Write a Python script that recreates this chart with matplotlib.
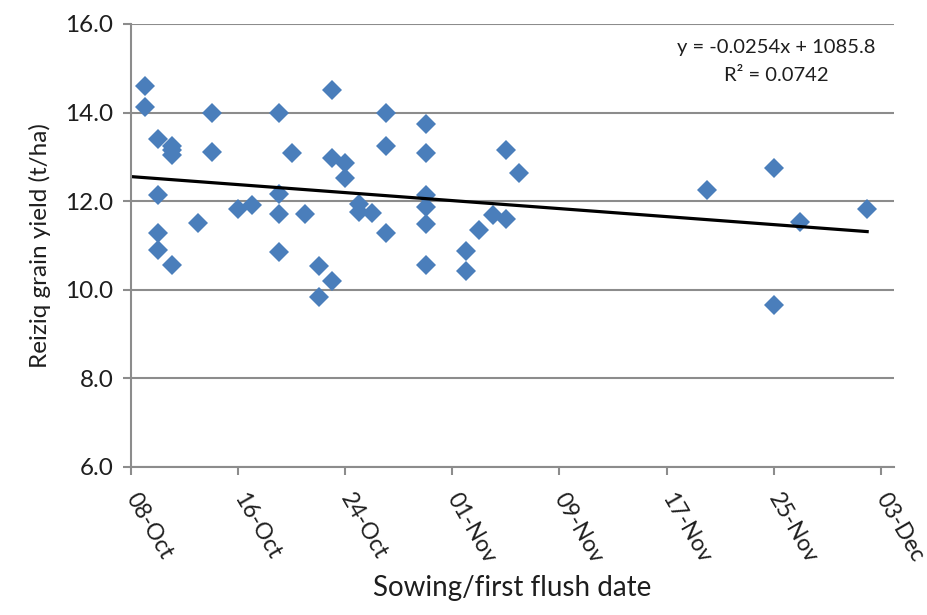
"""Reiziq grain yield against sowing/first flush date with linear trendline."""

import matplotlib.pyplot as plt
import matplotlib.dates as mdates
import numpy as np
import pandas as pd

sowing_dates = [
    "2015-10-09", "2015-10-09",
    "2015-10-10", "2015-10-10", "2015-10-10", "2015-10-10",
    "2015-10-11", "2015-10-11", "2015-10-11", "2015-10-11",
    "2015-10-13",
    "2015-10-14", "2015-10-14",
    "2015-10-16",
    "2015-10-17",
    "2015-10-19", "2015-10-19", "2015-10-19", "2015-10-19",
    "2015-10-20",
    "2015-10-21",
    "2015-10-22", "2015-10-22",
    "2015-10-23", "2015-10-23", "2015-10-23",
    "2015-10-24", "2015-10-24",
    "2015-10-25", "2015-10-25",
    "2015-10-26",
    "2015-10-27", "2015-10-27", "2015-10-27",
    "2015-10-30", "2015-10-30", "2015-10-30", "2015-10-30", "2015-10-30", "2015-10-30",
    "2015-11-02", "2015-11-02",
    "2015-11-03",
    "2015-11-04",
    "2015-11-05", "2015-11-05",
    "2015-11-06",
    "2015-11-20",
    "2015-11-25", "2015-11-25",
    "2015-11-27",
    "2015-12-02",
]
grain_yield = [
    14.60, 14.13,
    13.40, 12.13, 11.28, 10.90,
    13.25, 13.15, 13.05, 10.57,
    11.51,
    14.00, 13.12,
    11.83,
    11.92,
    14.00, 12.17, 11.71, 10.85,
    13.09,
    11.71,
    10.54, 9.84,
    14.52, 12.98, 10.19,
    12.87, 12.53,
    11.94, 11.75,
    11.73,
    14.00, 13.24, 11.28,
    13.74, 13.09, 12.13, 11.87, 11.49, 10.57,
    10.87, 10.43,
    11.36,
    11.68,
    13.16, 11.60,
    12.64,
    12.25,
    12.76, 9.66,
    11.53,
    11.83,
]
x_start = "2015-10-08"
x_end = "2015-12-04"
y_ticks = [6.0, 8.0, 10.0, 12.0, 14.0, 16.0]
equation_text = "y = -0.0254x + 1085.8"
r2_text = "R\u00b2 = 0.0742"


if __name__ == "__main__":
    plt.rcParams["font.family"] = ["Lato", "DejaVu Sans"]

    dates = pd.to_datetime(sowing_dates)
    x_num = mdates.date2num(dates)

    fig = plt.figure(figsize=(9.27, 6.15), dpi=100)
    ax = fig.add_axes([0.1418, 0.2407, 0.8225, 0.7203])

    grid_color = "#8c8c8c"
    text_color = "#1e1e1e"
    ax.set_axisbelow(True)
    ax.grid(axis="y", color=grid_color, linewidth=1.5)

    ax.plot(
        dates,
        grain_yield,
        "D",
        markersize=9.8,
        color="#4A7EBB",
        markeredgewidth=0,
        linestyle="none",
    )

    # linear trendline, drawn from the axis start to the last sowing date
    slope, intercept = np.polyfit(x_num, grain_yield, 1)
    line_x = np.array([mdates.date2num(pd.Timestamp(x_start)), x_num.max()])
    ax.plot(
        mdates.num2date(line_x),
        slope * line_x + intercept,
        "-",
        color="black",
        linewidth=2.3,
    )

    ax.text(0.846, 0.948, equation_text, transform=ax.transAxes,
            ha="center", va="center", fontsize=14.5, color=text_color)
    ax.text(0.846, 0.883, r2_text, transform=ax.transAxes,
            ha="center", va="center", fontsize=14.5, color=text_color)

    ax.set_ylim(6.0, 16.0)
    ax.set_yticks(y_ticks)
    ax.set_yticklabels([f"{v:.1f}" for v in y_ticks])
    ax.set_xlim(pd.Timestamp(x_start), pd.Timestamp(x_end))
    tick_dates = pd.date_range(x_start, "2015-12-03", freq="8D")
    ax.set_xticks(tick_dates)
    ax.xaxis.set_major_formatter(mdates.DateFormatter("%d-%b"))

    for side in ["top", "right"]:
        ax.spines[side].set_visible(False)
    for side in ["left", "bottom"]:
        ax.spines[side].set_color(grid_color)
        ax.spines[side].set_linewidth(1.5)

    ax.tick_params(axis="both", colors=grid_color, width=1.5, length=6,
                   labelcolor=text_color, labelsize=17.5)
    ax.tick_params(axis="x", labelsize=16.5, pad=14)
    ax.tick_params(axis="y", pad=7)
    for label in ax.get_xticklabels():
        label.set_rotation(-60)
        label.set_ha("left")
        label.set_va("center")
        label.set_rotation_mode("anchor")

    ax.set_xlabel("Sowing/first flush date", fontsize=20, color=text_color,
                  labelpad=6)
    ax.set_ylabel("Reiziq grain yield (t/ha)", fontsize=17.5, color=text_color,
                  labelpad=10)

    plt.savefig("out.png", dpi=100)
    plt.close()
